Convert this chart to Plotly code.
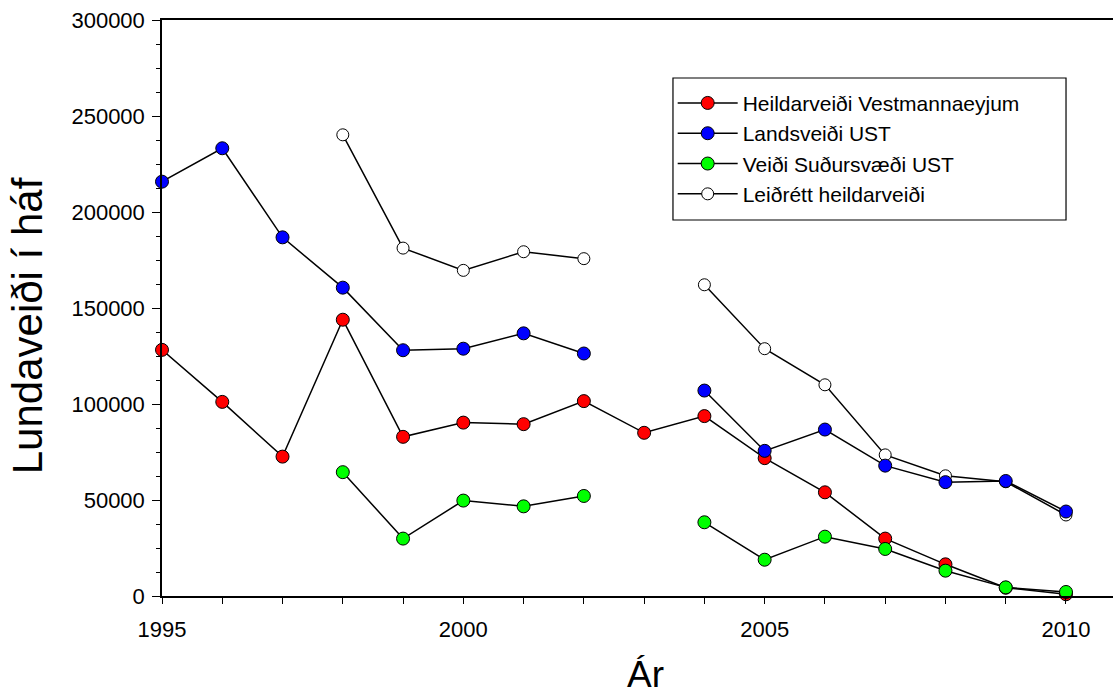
import plotly.graph_objects as go

years = [1995, 1996, 1997, 1998, 1999, 2000, 2001, 2002, 2003, 2004, 2005, 2006, 2007, 2008, 2009, 2010]

heildarveidi_vestm = [128200, 101100, 72600, 143900, 82900, 90300, 89500, 101500, 85000, 93700, 71800, 54000, 29900, 16500, 4300, 900]
landsveidi_ust = [215800, 233200, 186800, 160600, 128000, 128800, 136800, 126300, None, 107000, 75600, 86700, 67900, 59300, 59900, 44000]
sudursvaedi_ust = [None, None, None, 64500, 29900, 49700, 46700, 52100, None, 38400, 18900, 30900, 24500, 13200, 4500, 2100]
leidrett_heild = [None, None, None, 240200, 181200, 169600, 179300, 175700, None, 162100, 128800, 110000, 73500, 62600, 59500, 42200]

names = ["Heildarveiði Vestmannaeyjum", "Landsveiði UST", "Veiði Suðursvæði UST", "Leiðrétt heildarveiði"]
fills = ["#FF0000", "#0000FF", "#00FF00", "#FFFFFF"]

FONT = "Liberation Sans, Arial, sans-serif"

fig = go.Figure()

series = [
    (leidrett_heild, 3, 12),
    (heildarveidi_vestm, 0, 13),
    (landsveidi_ust, 1, 13),
    (sudursvaedi_ust, 2, 13),
]
for vals, idx, msize in series:
    fig.add_trace(go.Scatter(
        x=years, y=vals, name=names[idx], mode="lines+markers",
        connectgaps=False, cliponaxis=False, legendrank=idx + 1,
        line=dict(color="black", width=1.5),
        marker=dict(symbol="circle", size=msize, color=fills[idx],
                    line=dict(color="black", width=1)),
    ))

fig.update_layout(
    width=1115, height=695,
    margin=dict(l=162, r=2, t=20, b=99),
    paper_bgcolor="white", plot_bgcolor="white",
    font=dict(family=FONT, size=22, color="black"),
    showlegend=True,
    legend=dict(
        x=0.537, y=0.891, xanchor="left", yanchor="top",
        bgcolor="rgba(0,0,0,0)", bordercolor="rgba(0,0,0,0)", borderwidth=0,
        font=dict(family=FONT, size=21, color="black"),
        tracegroupgap=0, itemwidth=60,
    ),
    shapes=[
        dict(type="rect", xref="paper", yref="paper",
             x0=0.5373, x1=0.9506, y0=0.6528, y1=0.8993,
             line=dict(color="black", width=1.2), fillcolor="white", layer="below"),
    ],
    xaxis=dict(
        range=[1995, 2010.78], showgrid=False, zeroline=False,
        showline=True, linecolor="black", linewidth=1.5, mirror=True,
        ticks="outside", ticklen=6, tickwidth=1, tickcolor="black",
        tickvals=[1995, 2000, 2005, 2010],
        ticklabelstandoff=7,
        minor=dict(dtick=1, tick0=1995, ticks="outside", ticklen=6, tickwidth=1, tickcolor="black"),
        tickfont=dict(family=FONT, size=22),
    ),
    yaxis=dict(
        range=[0, 300000], showgrid=False, zeroline=False,
        showline=True, linecolor="black", linewidth=1.5,
        ticks="outside", ticklen=8, tickwidth=1, tickcolor="black",
        dtick=50000, tick0=0, tickformat="d",
        ticklabelstandoff=3,
        minor=dict(dtick=12500, tick0=0, ticks="outside", ticklen=4, tickwidth=1, tickcolor="black"),
        tickfont=dict(family=FONT, size=22),
    ),
    annotations=[
        dict(text="Ár", xref="paper", yref="paper", x=0.508, y=-0.137,
             xanchor="center", yanchor="middle", showarrow=False,
             font=dict(family=FONT, size=37, color="black")),
        dict(text="Lundaveiði í háf", xref="paper", yref="paper", x=-0.142, y=0.47,
             xanchor="center", yanchor="middle", textangle=-90, showarrow=False,
             font=dict(family=FONT, size=42, color="black")),
    ],
)

fig.write_html("out.html")
